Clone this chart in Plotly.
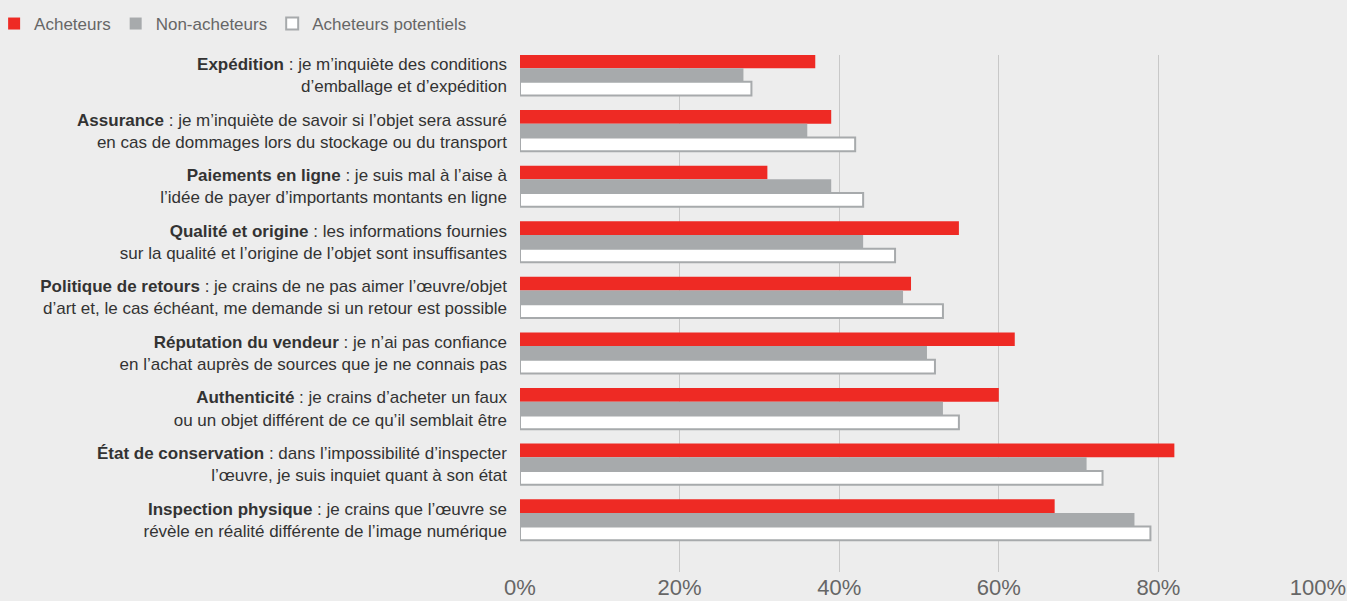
import plotly.graph_objects as go

categories = [
    "<b>Expédition</b> : je m’inquiète des conditions<br>d’emballage et d’expédition",
    "<b>Assurance</b> : je m’inquiète de savoir si l’objet sera assuré<br>en cas de dommages lors du stockage ou du transport",
    "<b>Paiements en ligne</b> : je suis mal à l’aise à<br>l’idée de payer d’importants montants en ligne",
    "<b>Qualité et origine</b> : les informations fournies<br>sur la qualité et l’origine de l’objet sont insuffisantes",
    "<b>Politique de retours</b> : je crains de ne pas aimer l’œuvre/objet<br>d’art et, le cas échéant, me demande si un retour est possible",
    "<b>Réputation du vendeur</b> : je n’ai pas confiance<br>en l’achat auprès de sources que je ne connais pas",
    "<b>Authenticité</b> : je crains d’acheter un faux<br>ou un objet différent de ce qu’il semblait être",
    "<b>État de conservation</b> : dans l’impossibilité d’inspecter<br>l’œuvre, je suis inquiet quant à son état",
    "<b>Inspection physique</b> : je crains que l’œuvre se<br>révèle en réalité différente de l’image numérique",
]
acheteurs = [37, 39, 31, 55, 49, 62, 60, 82, 67]
non_acheteurs = [28, 36, 39, 43, 48, 51, 53, 71, 77]
potentiels = [29, 42, 43, 47, 53, 52, 55, 73, 79]

tick_vals = [0, 20, 40, 60, 80, 100]
tick_text = ["0%", "20%", "40%", "60%", "80%", "100%"]

RED = "#ee2a24"
GRAY = "#a7aaac"

fig = go.Figure()
fig.add_trace(go.Bar(y=categories, x=acheteurs, orientation="h", name="Acheteurs",
                     marker=dict(color=RED, line=dict(width=0))))
fig.add_trace(go.Bar(y=categories, x=non_acheteurs, orientation="h", name="Non-acheteurs",
                     marker=dict(color=GRAY, line=dict(width=0))))
fig.add_trace(go.Bar(y=categories, x=potentiels, orientation="h", name="Acheteurs potentiels",
                     marker=dict(color="#ffffff", line=dict(color=GRAY, width=2))))

fig.update_layout(
    width=1347, height=601,
    paper_bgcolor="#ededed", plot_bgcolor="#ededed",
    margin=dict(l=520, r=29, t=55, b=29, autoexpand=False),
    barmode="group", bargap=0.26, bargroupgap=0,
    font=dict(family="Liberation Sans, Arial, sans-serif", color="#333333"),
    showlegend=True,
    legend=dict(orientation="h", x=-0.659, xanchor="left", y=1.06, yanchor="middle",
                font=dict(size=17, color="#666666"), bgcolor="rgba(0,0,0,0)",
                itemwidth=30, traceorder="normal"),
)
fig.update_xaxes(range=[0, 100], tickvals=tick_vals, ticktext=tick_text,
                 showgrid=True, gridcolor="#c8c8c8", gridwidth=1, zeroline=False,
                 showline=False, ticks="", tickfont=dict(size=22, color="#666666"),
                 fixedrange=True)
fig.update_yaxes(type="category", categoryorder="array", categoryarray=categories,
                 range=[8.94, -0.36], showgrid=False, zeroline=False, showline=False,
                 ticks="", ticklabelstandoff=12, tickfont=dict(size=17, color="#333333"))

fig.write_html("out.html", config={"displayModeBar": False},
               post_script="document.body.style.margin='0';document.body.style.background='#ededed';")
